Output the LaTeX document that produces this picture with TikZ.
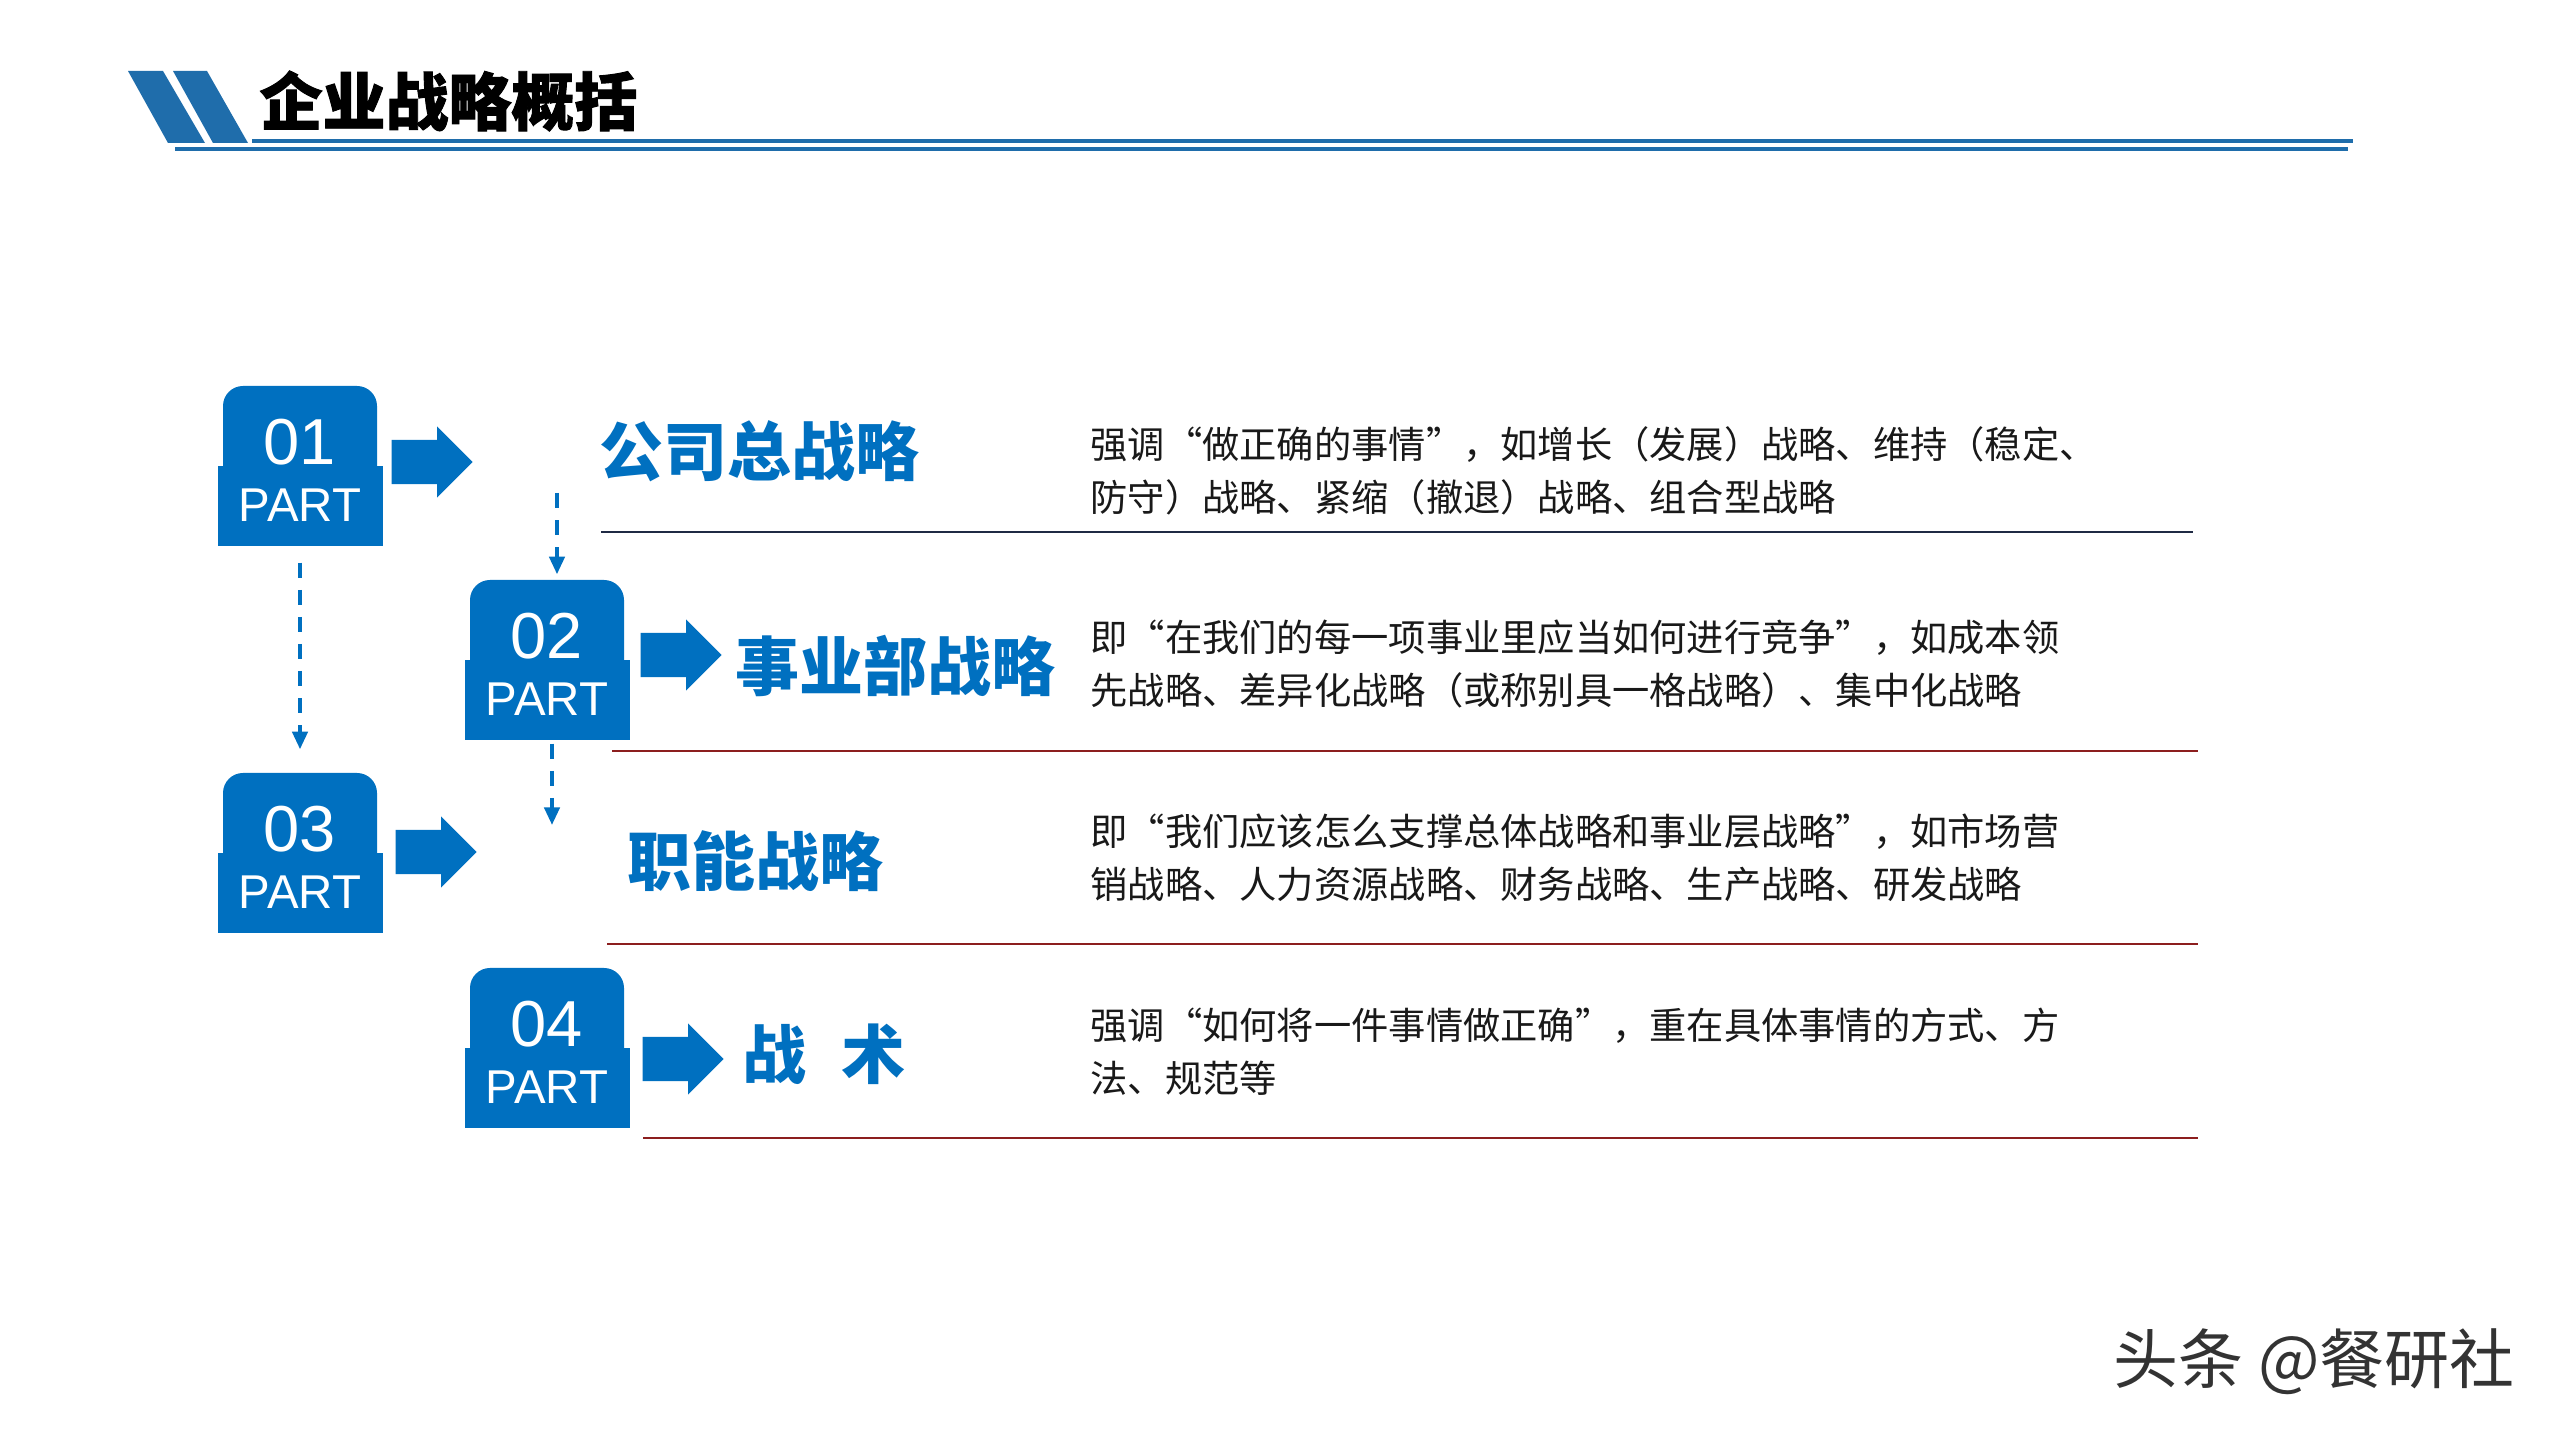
\documentclass[tikz,border=0pt]{standalone}
\usepackage{fontspec}
\usepackage{xcolor}
\setmainfont{Liberation Sans}
\newfontfamily\cjk{Noto Sans CJK SC}
\newfontfamily\cjkheavy{Noto Sans CJK SC}[BoldFeatures={FakeBold=1.5}]
\newfontfamily\cjktext{Noto Sans CJK SC}[RawFeature=+fwid]
\usetikzlibrary{shapes.arrows,arrows.meta}

\definecolor{partblue}{HTML}{0070C0}
\definecolor{headblue}{HTML}{1F6DAB}
\definecolor{linenavy}{HTML}{1F2A44}
\definecolor{linered}{HTML}{8C1E1E}

\tikzset{
  parttop/.style={fill=partblue, rounded corners=0.2cm, minimum width=1.54cm, minimum height=1.10cm, inner sep=0},
  partbot/.style={fill=partblue, minimum width=1.65cm, minimum height=0.80cm, inner sep=0},
  partnum/.style={text=white, font=\fontsize{18.5pt}{18.5pt}\selectfont, anchor=base, inner sep=0},
  partlbl/.style={text=white, font=\fontsize{13.5pt}{13.5pt}\selectfont, anchor=base, inner sep=0},
  bigarrow/.style={single arrow, fill=partblue, minimum height=0.81cm, inner xsep=0, inner ysep=0.215cm,
    single arrow head extend=0.135cm, single arrow tip angle=90, anchor=tail},
  dashflow/.style={partblue, line width=1.1pt, dash pattern=on 4.3pt off 3.4pt, ->},
  heading/.style={text=partblue, font=\cjk\bfseries\fontsize{18.2pt}{18.2pt}\selectfont, anchor=west, inner sep=0},
  desc/.style={text=black!90, font=\cjktext\fontsize{10.6pt}{15.1pt}\selectfont, anchor=west, align=left, inner sep=0},
  titletext/.style={font=\cjkheavy\bfseries\fontsize{17.9pt}{17.9pt}\selectfont, anchor=west, inner sep=0},
}

\begin{document}
\begin{tikzpicture}[>={Triangle[width=4.3pt,length=5pt]}]
                \useasboundingbox (0,0) rectangle (25.6,14.4);
                \fill[white] (0,0) rectangle (25.6,14.4);

                %% title bar
                \fill[headblue] (1.28,13.69) -- (1.63,13.69) -- (2.05,12.97) -- (1.68,12.97) -- cycle;
                \fill[headblue] (1.73,13.69) -- (2.07,13.69) -- (2.48,12.97) -- (2.13,12.97) -- cycle;
                \draw[headblue, line width=1.15pt] (2.52,12.99) -- (23.53,12.99);
                \draw[headblue, line width=1.15pt] (1.75,12.91) -- (23.48,12.91);
                \node[titletext] (title) at (2.59,13.39) {企业战略概括};

                %01
                \node[parttop] (t1) at (3.00,9.99) {};
                \node[partbot] (b1) at (3.00,9.34) {};
                \node[partnum] (n1) at (3.00,9.75) {01};
                \node[partlbl] (l1) at (3.00,9.18) {PART};
                \node[bigarrow] (a1) at (3.91,9.78) {};
                \node[heading] (h1) at (5.99,9.89) {公司总战略};
                \node[desc] (c1) at (10.90,9.695) {强调“做正确的事情”，如增长（发展）战略、维持（稳定、\\防守）战略、紧缩（撤退）战略、组合型战略};
                \draw[linenavy, line width=0.5pt] (6.01,9.08) -- (21.93,9.08);

                %02
                \node[parttop] (t2) at (5.47,8.05) {};
                \node[partbot] (b2) at (5.47,7.40) {};
                \node[partnum] (n2) at (5.47,7.81) {02};
                \node[partlbl] (l2) at (5.47,7.24) {PART};
                \node[bigarrow] (a2) at (6.40,7.85) {};
                \node[heading] (h2) at (7.35,7.74) {事业部战略};
                \node[desc] (c2) at (10.90,7.76) {即“在我们的每一项事业里应当如何进行竞争”，如成本领\\先战略、差异化战略（或称别具一格战略）、集中化战略};
                \draw[linered, line width=0.5pt] (6.12,6.89) -- (21.98,6.89);

                %03
                \node[parttop] (t3) at (3.00,6.12) {};
                \node[partbot] (b3) at (3.00,5.47) {};
                \node[partnum] (n3) at (3.00,5.88) {03};
                \node[partlbl] (l3) at (3.00,5.31) {PART};
                \node[bigarrow] (a3) at (3.95,5.88) {};
                \node[heading] (h3) at (6.27,5.79) {职能战略};
                \node[desc] (c3) at (10.90,5.82) {即“我们应该怎么支撑总体战略和事业层战略”，如市场营\\销战略、人力资源战略、财务战略、生产战略、研发战略};
                \draw[linered, line width=0.5pt] (6.07,4.96) -- (21.98,4.96);

                %04
                \node[parttop] (t4) at (5.47,4.17) {};
                \node[partbot] (b4) at (5.47,3.52) {};
                \node[partnum] (n4) at (5.47,3.93) {04};
                \node[partlbl] (l4) at (5.47,3.36) {PART};
                \node[bigarrow] (a4) at (6.42,3.81) {};
                \node[heading] (h4) at (7.42,3.86) {战\hspace{0.55em}术};
                \node[desc] (c4) at (10.90,3.885) {强调“如何将一件事情做正确”，重在具体事情的方式、方\\法、规范等};
                \draw[linered, line width=0.5pt] (6.43,3.02) -- (21.98,3.02);

                %% dashed flow
                \coordinate (d2s) at (5.57,9.47);
                \coordinate (d3e) at (5.52,6.15);
                \draw[dashflow, shorten <=0.16cm, shorten >=0.23cm] (b1.south) -- (t3.north);
                \draw[dashflow, shorten >=0.05cm] (d2s) -- (d2s |- t2.north);
                \draw[dashflow, shorten <=0.03cm] (b2.south -| d3e) -- (d3e);

                %% mark
                \node[anchor=west, inner sep=0, text=black!80, font=\cjk\fontsize{18.5pt}{18.5pt}\selectfont] (mark) at (21.13,0.78) {头条 @餐研社};

            \end{tikzpicture}
\end{document}
